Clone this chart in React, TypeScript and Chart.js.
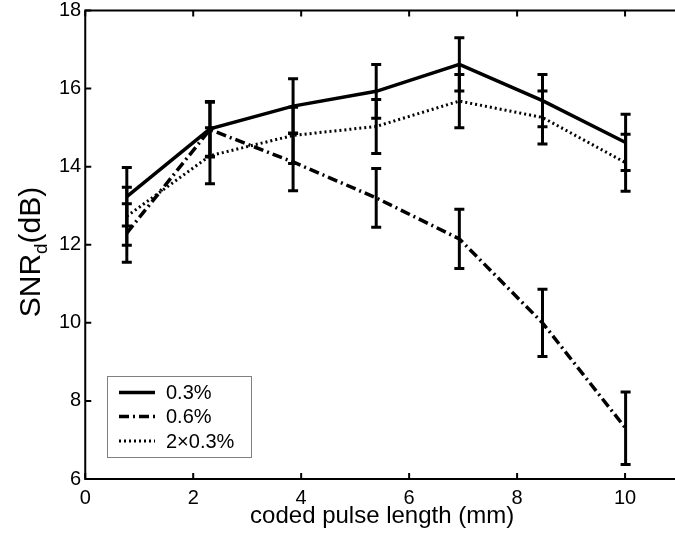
import React, { useEffect, useRef } from "react";
import { Chart, registerables } from "chart.js";

Chart.register(...registerables);

// ---- data ----
const pulseLengths = [0.77, 2.31, 3.85, 5.39, 6.93, 8.47, 10.01];
const snr03 = [13.23, 14.97, 15.55, 15.93, 16.62, 15.69, 14.62];
const err03 = [0.75, 0.7, 0.7, 0.69, 0.68, 0.67, 0.72];
const snr06 = [12.3, 14.95, 14.12, 13.2, 12.15, 10.0, 7.3];
const err06 = [0.75, 0.7, 0.74, 0.75, 0.76, 0.86, 0.93];
const snr2x03 = [12.73, 14.28, 14.8, 15.03, 15.68, 15.26, 14.1];
const err2x03 = [0.74, 0.72, 0.72, 0.69, 0.68, 0.68, 0.73];
const seriesLabels = ["0.3%", "0.6%", "2\u00d70.3%"];
const xTickValues = [0, 2, 4, 6, 8, 10];
const yTickValues = [6, 8, 10, 12, 14, 16, 18];
const xTitle = "coded pulse length (mm)";
const yTitleMain = "SNR";
const yTitleSub = "d";
const yTitleUnit = "(dB)";

const FONT = "'Liberation Sans', Arial, Helvetica, sans-serif";

const toPoints = (ys: number[]) => pulseLengths.map((x, i) => ({ x, y: ys[i] }));

const decorPlugin = {
  id: "decor",
  afterDatasetsDraw(chart: any) {
    const ctx = chart.ctx;
    const xs = chart.scales.x;
    const ys = chart.scales.y;
    ctx.save();
    ctx.strokeStyle = "#000";
    ctx.lineCap = "butt";
    chart.data.datasets.forEach((ds: any) => {
      ds.data.forEach((pt: any, j: number) => {
        const e = ds.errors[j];
        const px = xs.getPixelForValue(pt.x);
        const yt = ys.getPixelForValue(pt.y + e);
        const yb = ys.getPixelForValue(pt.y - e);
        ctx.setLineDash([]);
        ctx.lineWidth = 3;
        ctx.beginPath();
        ctx.moveTo(px, yt);
        ctx.lineTo(px, yb);
        ctx.stroke();
        ctx.beginPath();
        ctx.moveTo(px - 5, yt);
        ctx.lineTo(px + 5, yt);
        ctx.moveTo(px - 5, yb);
        ctx.lineTo(px + 5, yb);
        ctx.stroke();
      });
    });
    ctx.restore();
  },
  afterDraw(chart: any) {
    const ctx = chart.ctx;
    const a = chart.chartArea;
    const xs = chart.scales.x;
    const ys = chart.scales.y;
    ctx.save();
    ctx.strokeStyle = "#000";
    ctx.setLineDash([]);
    ctx.lineWidth = 2;
    ctx.beginPath();
    ctx.moveTo(a.right + 4, a.top);
    ctx.lineTo(a.left, a.top);
    ctx.lineTo(a.left, a.bottom);
    ctx.lineTo(a.right + 4, a.bottom);
    ctx.stroke();
    const tl = 6;
    ctx.beginPath();
    xs.ticks.forEach((t: any) => {
      const px = xs.getPixelForValue(t.value);
      ctx.moveTo(px, a.bottom);
      ctx.lineTo(px, a.bottom - tl);
      ctx.moveTo(px, a.top);
      ctx.lineTo(px, a.top + tl);
    });
    ys.ticks.forEach((t: any) => {
      const py = ys.getPixelForValue(t.value);
      ctx.moveTo(a.left, py);
      ctx.lineTo(a.left + tl, py);
    });
    ctx.stroke();

    // x title
    ctx.fillStyle = "#000";
    ctx.font = `24px ${FONT}`;
    ctx.textAlign = "center";
    ctx.textBaseline = "middle";
    ctx.fillText(xTitle, xs.getPixelForValue(5.5), 516);

    // y title (rotated, with subscript)
    ctx.save();
    ctx.translate(30, 252);
    ctx.rotate(-Math.PI / 2);
    ctx.textBaseline = "alphabetic";
    ctx.textAlign = "left";
    const big = `30px ${FONT}`;
    const small = `19px ${FONT}`;
    ctx.font = big;
    const w1 = ctx.measureText(yTitleMain).width;
    const w3 = ctx.measureText(yTitleUnit).width;
    ctx.font = small;
    const w2 = ctx.measureText(yTitleSub).width;
    const total = w1 + w2 + w3;
    let cx = -total / 2;
    ctx.font = big;
    ctx.fillText(yTitleMain, cx, 10);
    cx += w1;
    ctx.font = small;
    ctx.fillText(yTitleSub, cx, 17);
    cx += w2;
    ctx.font = big;
    ctx.fillText(yTitleUnit, cx, 10);
    ctx.restore();

    // legend
    const lx = 107.5, ly = 376.5, lw = 144, lh = 81;
    ctx.fillStyle = "#fff";
    ctx.fillRect(lx, ly, lw, lh);
    ctx.strokeStyle = "#808080";
    ctx.lineWidth = 1;
    ctx.strokeRect(lx, ly, lw, lh);
    const rows = [392.5, 416.5, 441];
    chart.data.datasets.forEach((ds: any, i: number) => {
      const ry = rows[i];
      ctx.strokeStyle = "#000";
      ctx.lineWidth = ds.borderWidth;
      ctx.setLineDash(ds.borderDash || []);
      ctx.beginPath();
      ctx.moveTo(119, ry);
      ctx.lineTo(155, ry);
      ctx.stroke();
      ctx.setLineDash([]);
      ctx.fillStyle = "#000";
      ctx.font = `20px ${FONT}`;
      ctx.textAlign = "left";
      ctx.textBaseline = "middle";
      ctx.fillText(ds.label, 166, ry + 1);
    });
    ctx.restore();
  },
};

export default function App() {
  const ref = useRef<HTMLCanvasElement | null>(null);
  useEffect(() => {
    if (!ref.current) return;
    const chart = new Chart(ref.current, {
      type: "line",
      data: {
        datasets: [
          {
            label: seriesLabels[0],
            data: toPoints(snr03),
            errors: err03,
            borderColor: "#000",
            borderWidth: 3.5,
            borderDash: [],
            pointRadius: 0,
            tension: 0,
          } as any,
          {
            label: seriesLabels[1],
            data: toPoints(snr06),
            errors: err06,
            borderColor: "#000",
            borderWidth: 3.5,
            borderDash: [10, 4, 2, 4],
            pointRadius: 0,
            tension: 0,
          } as any,
          {
            label: seriesLabels[2],
            data: toPoints(snr2x03),
            errors: err2x03,
            borderColor: "#000",
            borderWidth: 3,
            borderDash: [2, 3],
            pointRadius: 0,
            tension: 0,
          } as any,
        ],
      },
      options: {
        responsive: false,
        animation: false,
        devicePixelRatio: 1,
        layout: { padding: { left: 55, right: 0, top: 0, bottom: 15 } },
        plugins: { legend: { display: false }, tooltip: { enabled: false } },
        scales: {
          x: {
            type: "linear",
            min: 0,
            max: 10.925,
            grid: { display: false, drawTicks: false },
            border: { display: false },
            afterBuildTicks: (s: any) => {
              s.ticks = xTickValues.map((v) => ({ value: v }));
            },
            ticks: {
              color: "#000",
              padding: 7.5,
              font: { family: FONT, size: 20 },
            },
          },
          y: {
            type: "linear",
            min: 6,
            max: 18,
            grid: { display: false, drawTicks: false },
            border: { display: false },
            afterBuildTicks: (s: any) => {
              s.ticks = yTickValues.map((v) => ({ value: v }));
            },
            afterFit: (s: any) => {
              s.paddingTop = 10.5;
            },
            ticks: {
              color: "#000",
              padding: 4,
              font: { family: FONT, size: 20 },
            },
          },
        },
      },
      plugins: [decorPlugin],
    } as any);
    return () => chart.destroy();
  }, []);
  return (
    <div style={{ position: "fixed", left: 0, top: 0, width: 675, height: 533, background: "#fff" }}>
      <canvas ref={ref} width={675} height={533} style={{ display: "block" }} />
    </div>
  );
}
